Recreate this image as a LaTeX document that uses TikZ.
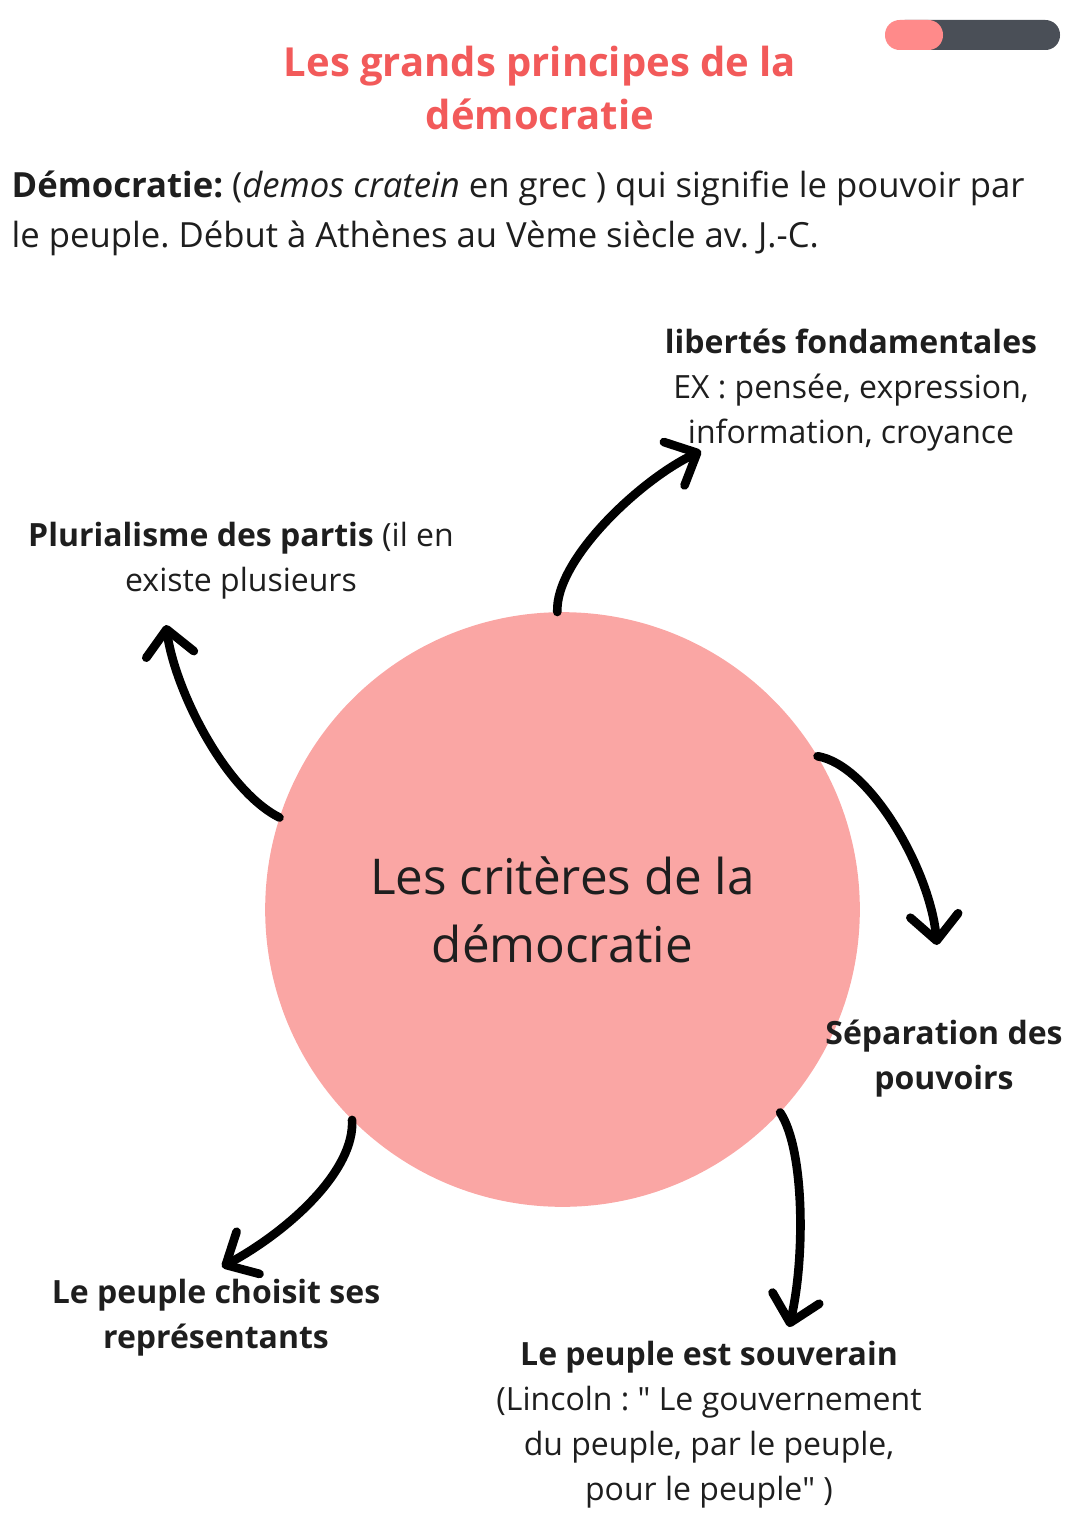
\documentclass[tikz,border=0pt]{standalone}
\usepackage{fontspec}
\setmainfont{Open Sans}
\usepackage{tikz}
\usetikzlibrary{arrows.meta,positioning}
\frenchspacing
\definecolor{dmred}{RGB}{242,90,90}
\definecolor{dmpink}{RGB}{250,166,164}
\definecolor{dmbarpink}{RGB}{255,138,138}
\definecolor{dmbargray}{RGB}{74,79,87}
\definecolor{dmtext}{RGB}{30,30,30}
\tikzstyle{critlabel} = [align=center, text=dmtext, font=\fontsize{24}{33.75}\selectfont]
\tikzstyle{curvearrow} = [line width=6.5pt, line cap=round, -{Straight Barb[length=19pt,width=36pt,round]}]

\begin{document}
\begin{tikzpicture}[x=0.75pt,y=-0.75pt]
\useasboundingbox (0,0) rectangle (1080,1527);
% progress bar
\fill[dmbargray, rounded corners=11pt] (890,20) rectangle (1060,50);
\fill[dmbarpink, rounded corners=11pt] (885,20) rectangle (943,50);
% title
\node[align=center, text=dmred, font=\fontsize{30}{40}\selectfont\bfseries] (title) at (540,88) {Les grands principes de la\\démocratie};
\node[anchor=west, align=left, text=dmtext, font=\fontsize{26}{37.5}\selectfont] (intro) at (7,213)
  {\textbf{Démocratie:} (\textit{demos cratein} en grec ) qui signifie le pouvoir par\\le peuple. Début à Athènes au Vème siècle av. J.-C.};
% center
\node[circle, fill=dmpink, minimum size=446pt, inner sep=0pt, align=center, text=dmtext, font=\fontsize{37}{51}\selectfont] (crit) at (562.5,909.5) {Les critères de la\\démocratie};
% criteria
\node[critlabel] (lib) at (851,390) {\textbf{libertés fondamentales}\\EX : pensée, expression,\\information, croyance};
\node[critlabel] (plur) at (241,561) {\textbf{Plurialisme des partis} (il en\\existe plusieurs};
\node[critlabel] (sep) at (944,1059) {\textbf{Séparation des}\\\textbf{pouvoirs}};
\node[critlabel] (choix) at (216,1318) {\textbf{Le peuple choisit ses}\\\textbf{représentants}};
\node[critlabel] (souv) at (709,1425) {\textbf{Le peuple est souverain}\\(Lincoln : \textquotedbl{} Le gouvernement\\du peuple, par le peuple,\\pour le peuple\textquotedbl{} )};
% arrow ends
\coordinate (tlib) at (701,451);
\coordinate (tplur) at (166,625);
\coordinate (tsep) at (937,945);
\coordinate (tsouv) at (789,1327);
\coordinate (tchoix) at (222,1267);
\draw[curvearrow] (crit.91) .. controls (555,560) and (640,480) .. (tlib);
\draw[curvearrow] (crit.162) .. controls (225,790) and (175,690) .. (tplur);
\draw[curvearrow] (crit.31) .. controls (870,765) and (930,870) .. (tsep);
\draw[curvearrow] (crit.-43) .. controls (805,1150) and (805,1260) .. (tsouv);
\draw[curvearrow] (crit.-135) .. controls (355,1170) and (290,1230) .. (tchoix);
\end{tikzpicture}
\end{document}
